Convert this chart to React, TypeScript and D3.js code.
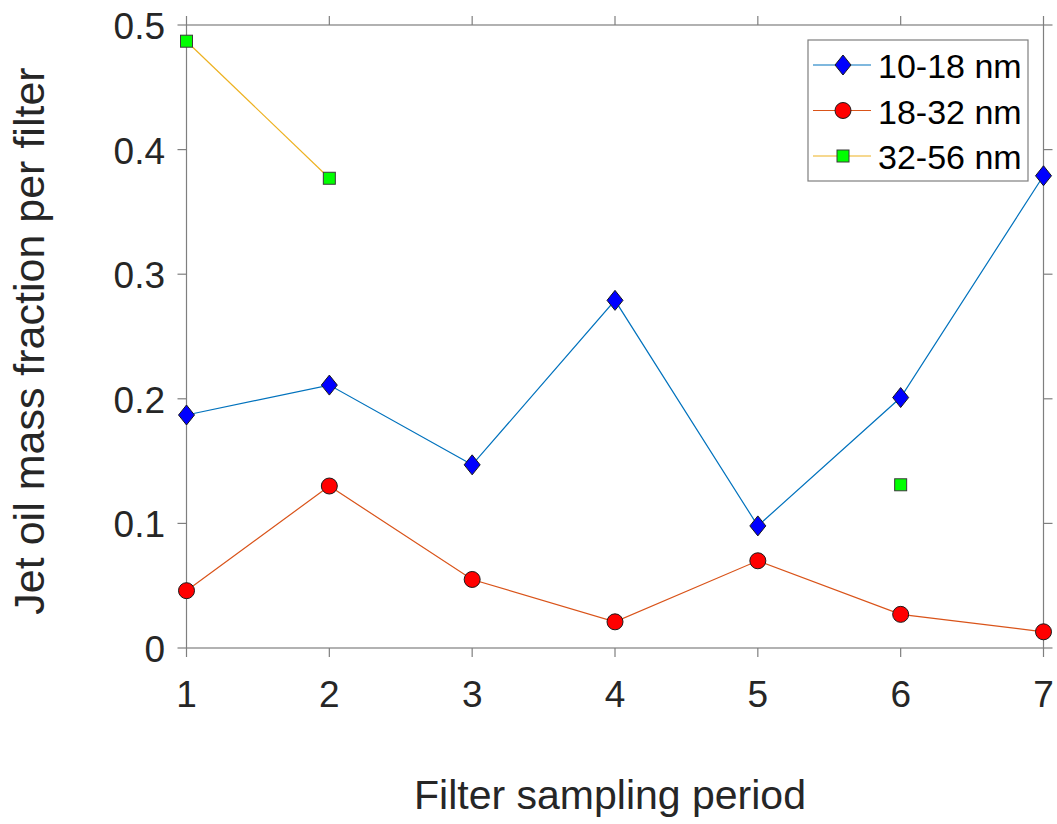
import React from "react";
import * as d3 from "d3";

const periods = [1, 2, 3, 4, 5, 6, 7];
const series1018 = [0.187, 0.211, 0.147, 0.279, 0.098, 0.201, 0.379];
const series1832 = [0.046, 0.130, 0.055, 0.021, 0.070, 0.027, 0.013];
const series3256: (number | null)[] = [0.487, 0.377, null, null, null, 0.131, null];
const yTicks = [0, 0.1, 0.2, 0.3, 0.4, 0.5];
const xTicks = [1, 2, 3, 4, 5, 6, 7];
const seriesNames = ["10-18 nm", "18-32 nm", "32-56 nm"];

const W = 1057;
const H = 824;
const left = 186.5;
const right = 1043.5;
const top = 25;
const bottom = 648;
const axisColor = "#7f7f7f";
const textColor = "#262626";
const font = "'Liberation Sans', Arial, Helvetica, sans-serif";

const x = d3.scaleLinear().domain([1, 7]).range([left, right]);
const y = d3.scaleLinear().domain([0, 0.5]).range([bottom, top]);

type Kind = "diamond" | "circle" | "square";

function Marker({ kind, cx, cy }: { kind: Kind; cx: number; cy: number }) {
  if (kind === "diamond") {
    const p = `M${cx},${cy - 10}L${cx + 8},${cy}L${cx},${cy + 10}L${cx - 8},${cy}Z`;
    return <path d={p} fill="#0000ff" stroke="#1a1a1a" strokeWidth={1} />;
  }
  if (kind === "circle") {
    return <circle cx={cx} cy={cy} r={8} fill="#ff0000" stroke="#1a1a1a" strokeWidth={1} />;
  }
  return <rect x={cx - 6} y={cy - 6} width={12} height={12} fill="#00ff00" stroke="#3a3a3a" strokeWidth={1} />;
}

const seriesDefs: { name: string; values: (number | null)[]; line: string; kind: Kind }[] = [
  { name: seriesNames[0], values: series1018, line: "#0072bd", kind: "diamond" },
  { name: seriesNames[1], values: series1832, line: "#d95319", kind: "circle" },
  { name: seriesNames[2], values: series3256, line: "#edb120", kind: "square" },
];

export default function App() {
  const lineGen = d3
    .line<number | null>()
    .defined((d) => d !== null)
    .x((_, i) => x(periods[i]))
    .y((d) => y(d as number));

  const tickLen = 9;
  const legX = 808;
  const legY = 40;
  const legW = 220;
  const legH = 141;
  const legRows = [65, 110.5, 156];

  return (
    <svg
      width={W}
      height={H}
      style={{ position: "absolute", left: 0, top: 0, background: "#fff" }}
      fontFamily={font}
    >
      <rect x={0} y={0} width={W} height={H} fill="#fff" />
      {/* axes box */}
      <rect x={left} y={top} width={right - left} height={bottom - top} fill="none" stroke={axisColor} strokeWidth={1.2} />
      {/* x ticks (outward, bottom and top) */}
      {xTicks.map((t) => (
        <g key={"xt" + t}>
          <line x1={x(t)} x2={x(t)} y1={bottom} y2={bottom + tickLen} stroke={axisColor} strokeWidth={1.2} />
          <line x1={x(t)} x2={x(t)} y1={top} y2={top - tickLen} stroke={axisColor} strokeWidth={1.2} />
          <text x={x(t)} y={bottom + 59} textAnchor="middle" fontSize={37} fill={textColor}>
            {t}
          </text>
        </g>
      ))}
      {/* y ticks (outward, left and right) */}
      {yTicks.map((t) => (
        <g key={"yt" + t}>
          <line x1={left} x2={left - tickLen} y1={y(t)} y2={y(t)} stroke={axisColor} strokeWidth={1.2} />
          <line x1={right} x2={right + tickLen} y1={y(t)} y2={y(t)} stroke={axisColor} strokeWidth={1.2} />
          <text x={165} y={y(t) + 14} textAnchor="end" fontSize={37} fill={textColor}>
            {t === 0 ? "0" : t.toFixed(1)}
          </text>
        </g>
      ))}
      {/* axis labels */}
      <text x={610} y={809} textAnchor="middle" fontSize={41} fill={textColor}>
        Filter sampling period
      </text>
      <text
        transform={`translate(44,341) rotate(-90)`}
        textAnchor="middle"
        fontSize={43}
        fill={textColor}
      >
        Jet oil mass fraction per filter
      </text>
      {/* series lines */}
      {seriesDefs.map((s) => (
        <path key={"l" + s.name} d={lineGen(s.values) || ""} fill="none" stroke={s.line} strokeWidth={1.2} />
      ))}
      {/* markers */}
      {seriesDefs.map((s) =>
        s.values.map((v, i) =>
          v === null ? null : <Marker key={s.name + i} kind={s.kind} cx={x(periods[i])} cy={y(v)} />
        )
      )}
      {/* legend */}
      <rect x={legX} y={legY} width={legW} height={legH} fill="#fff" stroke={axisColor} strokeWidth={1.2} />
      {seriesDefs.map((s, i) => (
        <g key={"lg" + s.name}>
          <line x1={813} x2={871} y1={legRows[i]} y2={legRows[i]} stroke={s.line} strokeWidth={1.2} />
          <Marker kind={s.kind} cx={843} cy={legRows[i]} />
          <text x={878} y={legRows[i] + 13} fontSize={34} fill="#000">
            {s.name}
          </text>
        </g>
      ))}
    </svg>
  );
}
